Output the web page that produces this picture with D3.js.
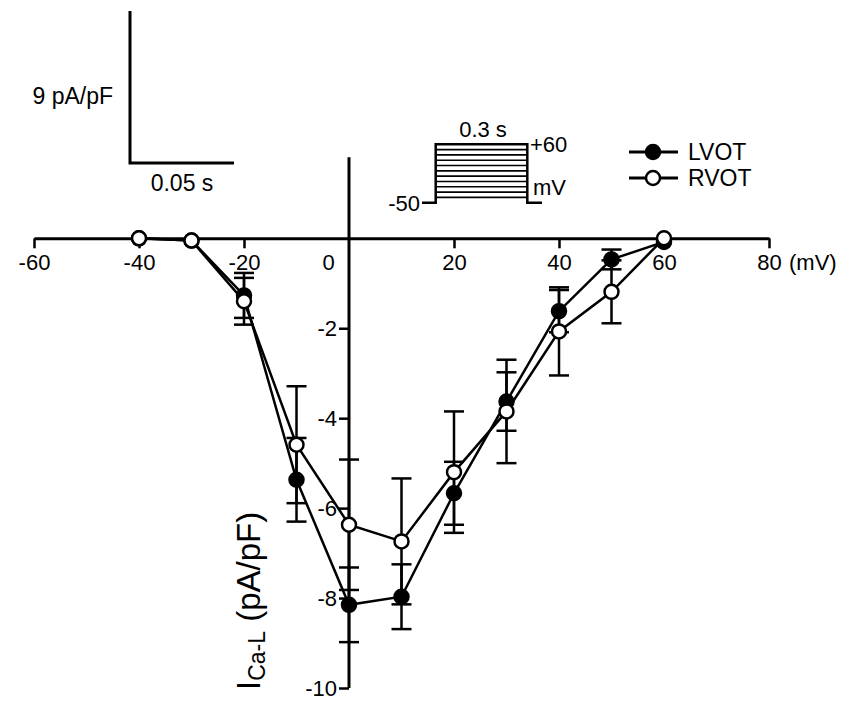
<!doctype html>
<html>
<head>
<meta charset="utf-8">
<script src="https://d3js.org/d3.v7.min.js"></script>
<style>
  body { margin: 0; background: #fff; }
  text { font-family: "Liberation Sans", Arial, sans-serif; fill: #000; }
</style>
</head>
<body>
<script>
// voltage steps (mV)
var voltage = [-40, -30, -20, -10, 0, 10, 20, 30, 40, 50, 60];
// mean current density (pA/pF) and SEM
var lvot    = [0, -0.05, -1.27, -5.37, -8.15, -7.97, -5.67, -3.63, -1.62, -0.47, -0.08];
var lvotErr = [0, 0, 0.5, 0.93, 0.83, 0.72, 0.7, 0.65, 0.47, 0.22, 0];
var rvot    = [0, -0.05, -1.4, -4.59, -6.37, -6.74, -5.2, -3.85, -2.07, -1.19, 0];
var rvotErr = [0, 0, 0.52, 1.3, 1.45, 1.4, 1.35, 1.15, 0.98, 0.7, 0];

var xTicks = [-60, -40, -20, 0, 20, 40, 60, 80];
var yTicks = [-10, -8, -6, -4, -2];
// pulse protocol levels (mV)
var holding = -50;
var steps = [-40, -30, -20, -10, 0, 10, 20, 30, 40, 50, 60];

var W = 850, H = 702;
var svg = d3.select("body").append("svg").attr("width", W).attr("height", H);

var x = d3.scaleLinear().domain([-60, 80]).range([34, 769]);
var y = d3.scaleLinear().domain([-10, 0]).range([688, 238.3]);
var fmt = function(d) { return String(d); }; // plain hyphen minus like the original

// x axis along zero current
var xAxis = svg.append("g")
    .attr("transform", "translate(0," + y(0) + ")")
    .call(d3.axisBottom(x).tickValues(xTicks).tickFormat(fmt).tickSize(10).tickSizeOuter(0).tickPadding(6));
xAxis.select(".domain").attr("stroke-width", 3);
xAxis.selectAll(".tick line").attr("stroke-width", 2.5);
xAxis.selectAll(".tick text").style("font-size", "22px")
    .attr("dx", function(d) { return d == 0 ? -21 : 0; });
xAxis.selectAll(".tick").filter(function(d) { return d == 0; }).select("line").remove();
xAxis.append("text").attr("x", x(80) + 20).attr("y", 32).attr("text-anchor", "start")
    .style("font-size", "22px").text("(mV)");

// y axis at 0 mV
var yAxis = svg.append("g")
    .attr("transform", "translate(" + x(0) + ",0)")
    .call(d3.axisLeft(y).tickValues(yTicks).tickFormat(fmt).tickSize(10).tickSizeOuter(0).tickPadding(2));
yAxis.select(".domain").remove();
yAxis.selectAll(".tick line").attr("stroke-width", 2.5);
yAxis.selectAll(".tick text").style("font-size", "22px");
yAxis.append("line").attr("x1", 0).attr("x2", 0)
    .attr("y1", y(-10)).attr("y2", y(1.8))
    .attr("stroke", "#000").attr("stroke-width", 3);

// y label
var yl = svg.append("text")
    .attr("transform", "translate(260," + 690 + ") rotate(-90)")
    .style("font-size", "33px");
yl.append("tspan").text("I");
yl.append("tspan").attr("dy", 5).style("font-size", "23px").text("Ca-L");
yl.append("tspan").attr("dy", -5).text("  (pA/pF)");

function series(vals, errs, fill) {
    var pts = voltage.map(function(v, i) { return {v: v, m: vals[i], e: errs[i]}; });
    var line = d3.line().x(function(d) { return x(d.v); }).y(function(d) { return y(d.m); });
    svg.append("path").datum(pts).attr("d", line)
        .attr("fill", "none").attr("stroke", "#000").attr("stroke-width", 2.5);
    var eb = svg.append("g").attr("stroke", "#000").attr("stroke-width", 2.5);
    pts.filter(function(d) { return d.e > 0; }).forEach(function(d) {
        eb.append("line").attr("x1", x(d.v)).attr("x2", x(d.v))
            .attr("y1", y(d.m - d.e)).attr("y2", y(d.m + d.e));
        [d.m - d.e, d.m + d.e].forEach(function(c) {
            eb.append("line").attr("x1", x(d.v) - 10).attr("x2", x(d.v) + 10)
                .attr("y1", y(c)).attr("y2", y(c));
        });
    });
    svg.append("g").selectAll("circle").data(pts).enter().append("circle")
        .attr("cx", function(d) { return x(d.v); })
        .attr("cy", function(d) { return y(d.m); })
        .attr("r", 7).attr("fill", fill).attr("stroke", "#000").attr("stroke-width", 2.5);
}
series(lvot, lvotErr, "#000");
series(rvot, rvotErr, "#fff");

// legend
var legend = [{name: "LVOT", fill: "#000"}, {name: "RVOT", fill: "#fff"}];
var lg = svg.append("g");
legend.forEach(function(l, i) {
    var ly = 152 + i * 26;
    lg.append("line").attr("x1", 629).attr("x2", 678).attr("y1", ly).attr("y2", ly)
        .attr("stroke", "#000").attr("stroke-width", 3);
    lg.append("circle").attr("cx", 653).attr("cy", ly).attr("r", 7)
        .attr("fill", l.fill).attr("stroke", "#000").attr("stroke-width", 2.5);
    lg.append("text").attr("x", 688).attr("y", ly + 8).style("font-size", "23px").text(l.name);
});

// scale bar
var sb = svg.append("g").attr("stroke", "#000").attr("stroke-width", 3).attr("fill", "none");
sb.append("path").attr("d", "M130,11V163H234");
svg.append("text").attr("x", 113).attr("y", 104).attr("text-anchor", "end")
    .style("font-size", "23px").text("9 pA/pF");
svg.append("text").attr("x", 182).attr("y", 191).attr("text-anchor", "middle")
    .style("font-size", "23px").text("0.05 s");

// voltage protocol inset
var px = d3.scaleLinear().domain([0, 1]).range([435.7, 527.3]);
var py = d3.scaleLinear().domain([holding, 60]).range([202.7, 144.3]);
var pr = svg.append("g").attr("stroke", "#000").attr("fill", "none");
pr.append("path").attr("stroke-width", 2.5)
    .attr("d", "M422," + py(holding) + "H" + px(0) + "V" + py(60) + "H" + px(1) + "V" + py(holding) + "H542");
steps.forEach(function(s) {
    pr.append("line").attr("x1", px(0)).attr("x2", px(1)).attr("y1", py(s)).attr("y2", py(s))
        .attr("stroke-width", 1.6);
});
svg.append("text").attr("x", 483).attr("y", 137).attr("text-anchor", "middle")
    .style("font-size", "22px").text("0.3 s");
svg.append("text").attr("x", 530).attr("y", 152).style("font-size", "22px").text("+60");
svg.append("text").attr("x", 533).attr("y", 195).style("font-size", "22px").text("mV");
svg.append("text").attr("x", 420).attr("y", 211).attr("text-anchor", "end")
    .style("font-size", "22px").text("-50");
</script>
</body>
</html>
